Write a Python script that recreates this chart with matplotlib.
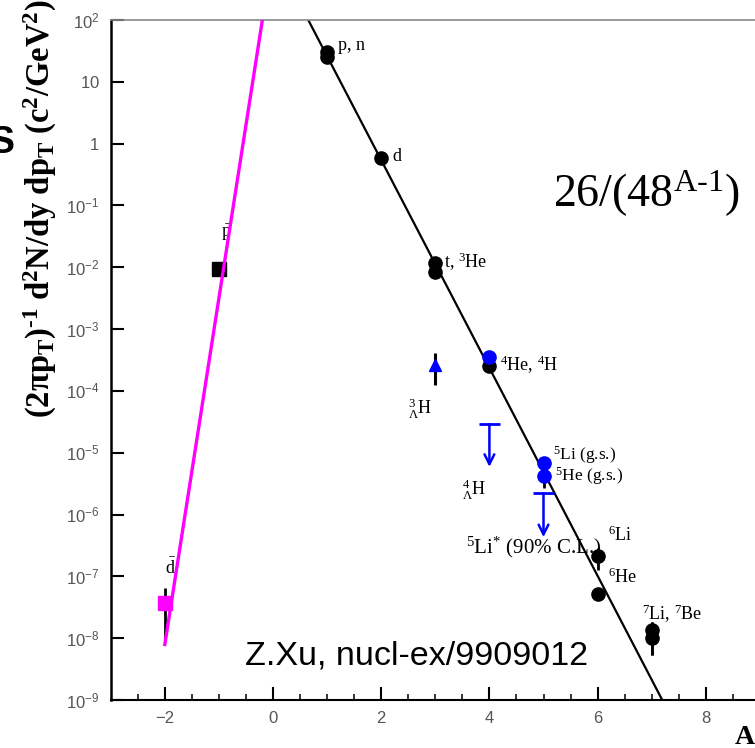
import numpy as np
import matplotlib
matplotlib.use("Agg")
import matplotlib.pyplot as plt
from matplotlib.ticker import FixedLocator, FixedFormatter, LogLocator, NullFormatter

plt.rcParams['mathtext.fontset'] = 'custom'
plt.rcParams['mathtext.rm'] = 'Liberation Serif'
plt.rcParams['mathtext.it'] = 'Liberation Serif:italic'
plt.rcParams['mathtext.bf'] = 'Liberation Serif:bold'
plt.rcParams['mathtext.sf'] = 'Liberation Sans'
plt.rcParams['font.family'] = ['Liberation Serif', 'DejaVu Sans']

# ---- data: invariant yields vs. mass number A ----
# black circles (measured light nuclei)
nuc_A = [1, 1, 2, 3, 3, 4, 6, 6, 7, 7]
nuc_y = [30, 25, 0.585, 1.17e-2, 8.5e-3, 2.5e-4, 2.1e-7, 5.1e-8, 1.35e-8, 1.0e-8]
nuc_lo = [30, 25, 0.585, 1.17e-2, 8.5e-3, 2.1e-4, 1.26e-7, 5.1e-8, 5.3e-9, 5.3e-9]
nuc_hi = [30, 25, 0.585, 1.17e-2, 8.5e-3, 2.9e-4, 2.86e-7, 5.1e-8, 1.8e-8, 1.8e-8]

# blue circles: 4H, 5Li(g.s.), 5He(g.s.)
exo_A = [4, 5, 5]
exo_y = [3.5e-4, 6.8e-6, 4.2e-6]
exo_lo = [3.5e-4, 6.8e-6, 2.7e-6]
exo_hi = [3.5e-4, 6.8e-6, 5.2e-6]

# hypertriton
hyp_A = [3]
hyp_y = [2.6e-4]
hyp_lo = [1.24e-4]
hyp_hi = [4.1e-4]

# upper limits: 4-Lambda-H and 5Li* (90% C.L.)
lim_A = [4, 5]
lim_y = [2.9e-5, 2.2e-6]
lim_tip = [5.9e-6, 4.3e-7]

# antimatter
pbar_A = [-1]
pbar_y = [9.3e-3]
dbar_A = [-2]
dbar_y = [3.7e-8]
dbar_lo = [9.3e-9]
dbar_hi = [6.5e-8]

# fit lines
fit_norm, fit_base = 26.0, 48.0          # 26/(48^(A-1))
fit_A = np.linspace(0.5, 7.5, 200)
anti_A = [-2.0, -0.15]
anti_y = [7.9e-9, 182.0]

xticks = [-2, 0, 2, 4, 6, 8]
xticklabels = ['\u22122', '0', '2', '4', '6', '8']
yticks = [1e-9, 1e-8, 1e-7, 1e-6, 1e-5, 1e-4, 1e-3, 1e-2, 1e-1, 1, 10, 100]
yticklabels = [r'$\mathsf{10^{-9}}$', r'$\mathsf{10^{-8}}$', r'$\mathsf{10^{-7}}$',
               r'$\mathsf{10^{-6}}$', r'$\mathsf{10^{-5}}$', r'$\mathsf{10^{-4}}$',
               r'$\mathsf{10^{-3}}$', r'$\mathsf{10^{-2}}$', r'$\mathsf{10^{-1}}$',
               r'$\mathsf{1}$', r'$\mathsf{10}$', r'$\mathsf{10^{2}}$']

W, H = 755, 748
fig = plt.figure(figsize=(W / 100, H / 100), dpi=100)
ax = fig.add_axes([110.7 / W, 48 / H, 649.2 / W, 680 / H])
ax.set_yscale('log')
ax.set_xlim(-3, 9)
ax.set_ylim(1e-9, 1e2)

# fit lines
ax.plot(fit_A, fit_norm / fit_base ** (fit_A - 1), color='black', lw=1.6, zorder=2)

# black squares / circles with error bars
ax.plot(pbar_A, pbar_y, 's', color='black', ms=9.5, zorder=3)
nA, ny = np.array(nuc_A), np.array(nuc_y)
ax.errorbar(nA, ny, yerr=[ny - np.array(nuc_lo), np.array(nuc_hi) - ny], fmt='o',
            color='black', ms=9.5, elinewidth=2, capsize=0, zorder=3)

ax.errorbar(dbar_A, dbar_y, yerr=[np.array(dbar_y) - np.array(dbar_lo),
                                  np.array(dbar_hi) - np.array(dbar_y)],
            fmt='none', ecolor='black', elinewidth=2, capsize=0, zorder=3)
ax.plot(anti_A, anti_y, color='#ff00ff', lw=2.4, zorder=4)
ax.plot(dbar_A, dbar_y, 's', color='#ff00ff', ms=10, zorder=5)

eA, ey = np.array(exo_A), np.array(exo_y)
ax.errorbar(eA, ey, yerr=[ey - np.array(exo_lo), np.array(exo_hi) - ey], fmt='none',
            ecolor='black', elinewidth=2, capsize=0, zorder=4)
ax.plot(exo_A, exo_y, 'o', color='#0000ff', ms=9.5, zorder=5)

hA, hy = np.array(hyp_A), np.array(hyp_y)
ax.errorbar(hA, hy, yerr=[hy - np.array(hyp_lo), np.array(hyp_hi) - hy], fmt='none',
            ecolor='black', elinewidth=2.2, capsize=0, zorder=4)
ax.plot(hyp_A, hyp_y, '^', color='#0000ff', ms=9, zorder=5)

# upper limits
for a, yv, tip in zip(lim_A, lim_y, lim_tip):
    ax.hlines(yv, a - 0.2, a + 0.2, color='#0000ff', lw=2, zorder=4)
    ax.annotate('', xy=(a, tip), xytext=(a, yv),
                arrowprops=dict(arrowstyle='->,head_length=0.7,head_width=0.35',
                                color='#0000ff', lw=1.8, shrinkA=0, shrinkB=0), zorder=4)

# labels next to the points
lab = dict(fontsize=13, color='black', va='center', ha='left',
           family=['Liberation Serif', 'DejaVu Sans'])
ax.text(1.2, 39, 'p, n', **lab)
ax.text(2.2, 0.61, 'd', **lab)
ax.text(3.16, 0.0121, r't, $^{3}$He', **lab)
ax.text(-0.97, 0.036, r'$\bar{\mathrm{p}}$', **lab)
ax.text(-2.0, 1.35e-7, r'$\bar{\mathrm{d}}$', **lab)
ax.text(4.2, 2.6e-4, r'$^{4}$He, $^{4}$H', **lab)
ax.text(2.5, 5.2e-5, r'${}^{3}_{\Lambda}$H', **lab)
ax.text(3.49, 2.5e-6, r'${}^{4}_{\Lambda}$H', **lab)
ax.text(5.18, 9.2e-6, r'$^{5}$Li (g.s.)', **dict(lab, fontsize=12.5))
ax.text(5.21, 4.2e-6, r'$^{5}$He (g.s.)', **dict(lab, fontsize=12.5))
ax.text(3.57, 2.9e-7, r'$^{5}$Li$^{*}$ (90% C.L.)', **dict(lab, fontsize=15))
ax.text(6.19, 4.7e-7, r'$^{6}$Li', **lab)
ax.text(6.19, 9.8e-8, r'$^{6}$He', **lab)
ax.text(6.82, 2.5e-8, r'$^{7}$Li, $^{7}$Be', **lab)

ax.text(0.681, 0.744, r'26/(48$^{\mathrm{A\text{-}1}}$)', transform=ax.transAxes,
        fontsize=33, ha='left', va='center', family='Liberation Serif')
ax.text(0.207, 0.064, 'Z.Xu, nucl-ex/9909012', transform=ax.transAxes,
        fontsize=24.5, ha='left', va='center', family='Liberation Sans')

# axes styling
ax.xaxis.set_major_locator(FixedLocator(xticks))
ax.xaxis.set_major_formatter(FixedFormatter(xticklabels))
ax.xaxis.set_minor_locator(FixedLocator(np.arange(-2.5, 9.0, 0.5)))
ax.yaxis.set_major_locator(FixedLocator(yticks))
ax.yaxis.set_major_formatter(FixedFormatter(yticklabels))
ax.yaxis.set_minor_locator(LogLocator(base=10, subs=np.arange(2, 10)))
ax.yaxis.set_minor_formatter(NullFormatter())
ax.tick_params(which='both', direction='in', top=False, right=False, color='black')
ax.tick_params(which='major', length=9.5, width=1.5, labelsize=12, labelcolor='#555555', pad=8)
ax.tick_params(which='minor', length=4.5, width=1.1)
ax.tick_params(axis='x', which='major', labelfontfamily='Liberation Sans')
ax.spines['left'].set_linewidth(1.8)
ax.spines['bottom'].set_linewidth(1.5)
ax.spines['top'].set_color('#888888')
ax.spines['top'].set_linewidth(1.2)
ax.spines['right'].set_visible(False)

fig.text(745 / W, 1 - 737 / H, 'A', fontsize=20, fontweight='bold', ha='center', va='center',
         family='Liberation Serif')
fig.text(40 / W, 1 - 418 / H,
         r'$\mathbf{(2\pi p_{T})^{\text{-}1}\ d^{2}N/dy\ dp_{T}\ (c^{2}/GeV^{2})}$',
         rotation=90, fontsize=23.5, ha='center', va='bottom')
fig.text(15 / W, 1 - 143 / H, 'S', fontsize=27, fontweight='bold', ha='right', va='center',
         family='Liberation Sans')

fig.savefig('out.png', dpi=100)
